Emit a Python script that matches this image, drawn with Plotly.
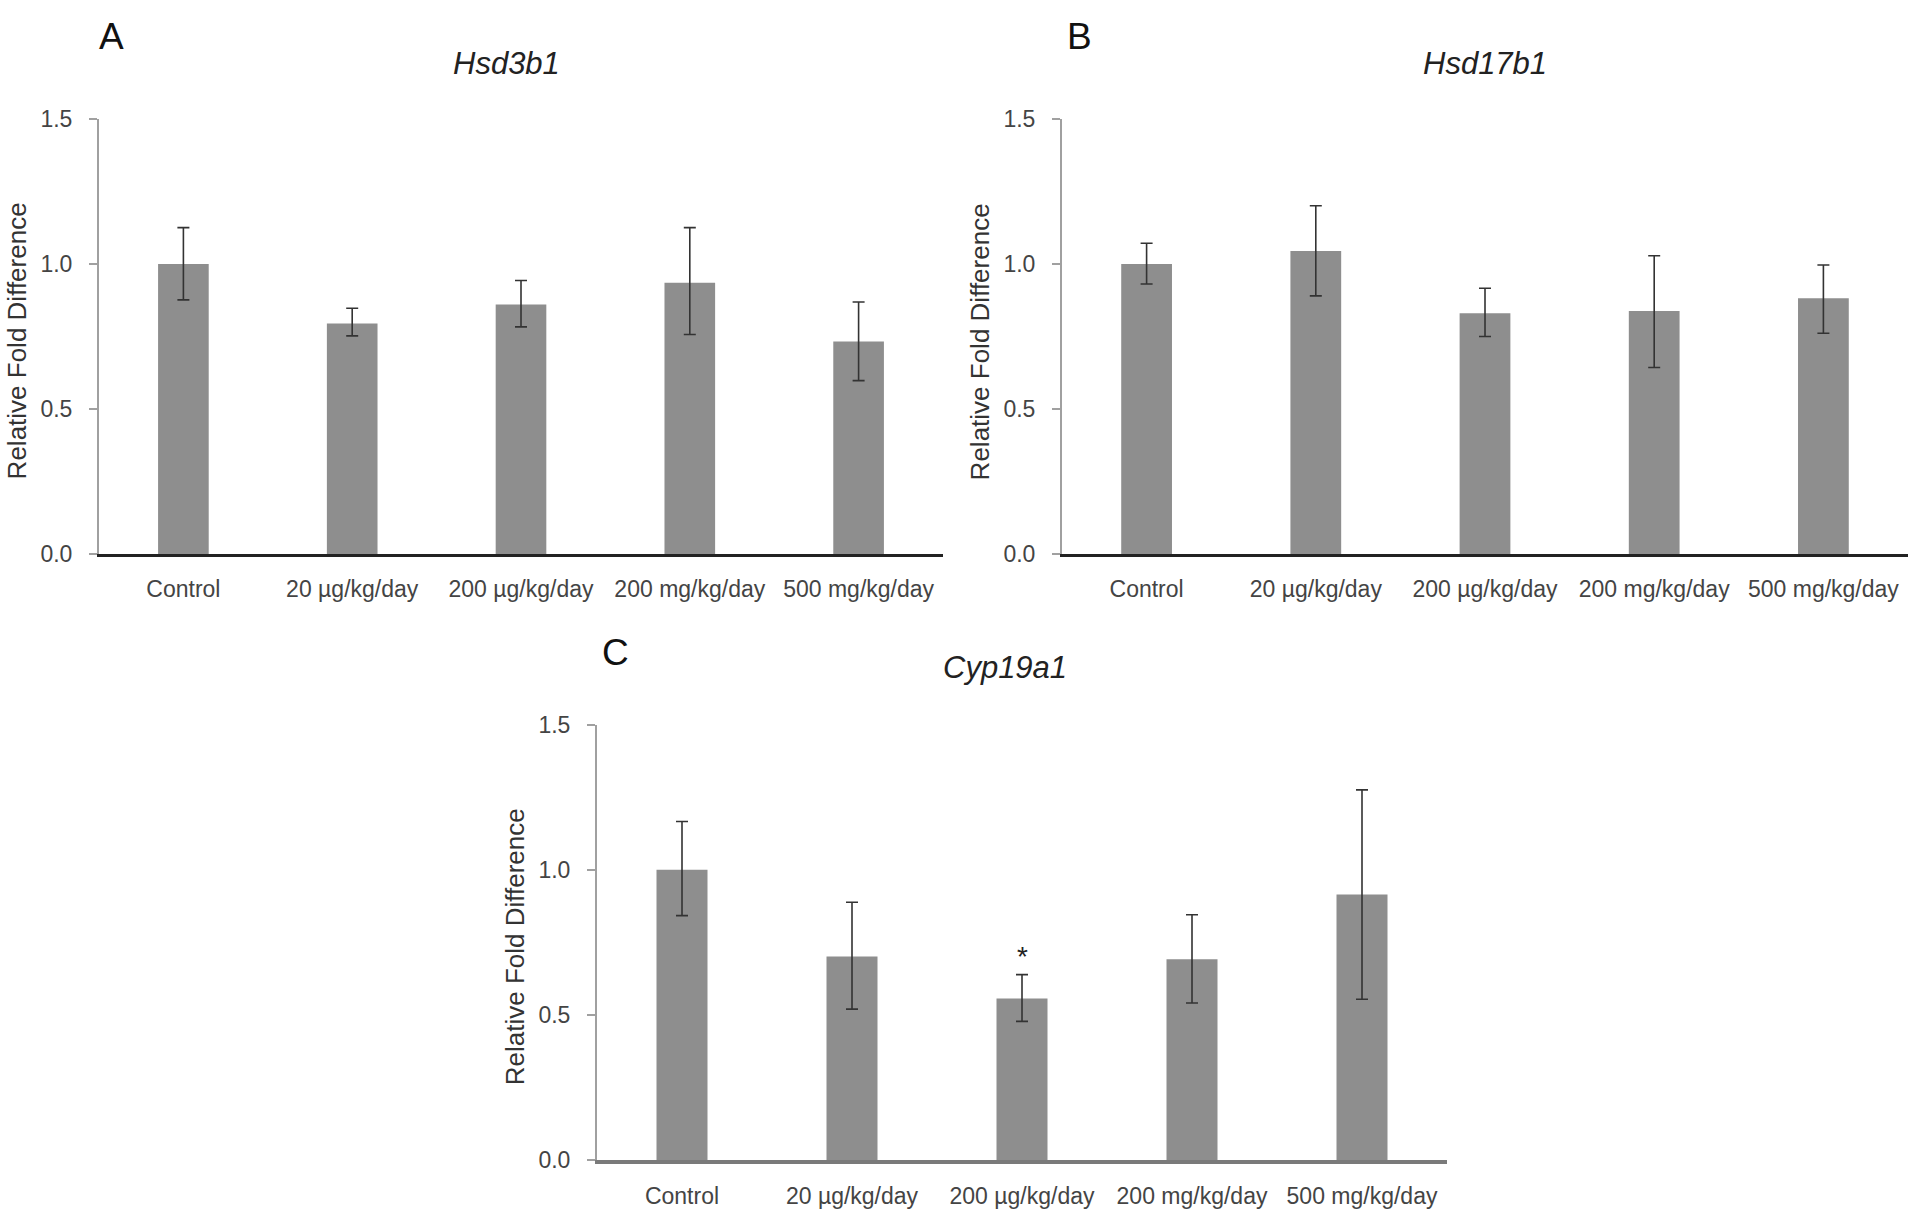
import plotly.graph_objects as go

categories = ["Control", "20 µg/kg/day", "200 µg/kg/day", "200 mg/kg/day", "500 mg/kg/day"]

# Panel A: Hsd3b1
hsd3b1_mean = [1.00, 0.795, 0.860, 0.935, 0.733]
hsd3b1_upper = [1.125, 0.847, 0.943, 1.125, 0.869]
hsd3b1_lower = [0.876, 0.752, 0.783, 0.757, 0.598]

# Panel B: Hsd17b1
hsd17b1_mean = [1.00, 1.044, 0.830, 0.838, 0.882]
hsd17b1_upper = [1.071, 1.200, 0.916, 1.028, 0.996]
hsd17b1_lower = [0.931, 0.890, 0.750, 0.643, 0.761]

# Panel C: Cyp19a1
cyp19a1_mean = [1.00, 0.701, 0.557, 0.692, 0.915]
cyp19a1_upper = [1.166, 0.888, 0.639, 0.845, 1.275]
cyp19a1_lower = [0.842, 0.520, 0.478, 0.541, 0.554]

signif_category = "200 µg/kg/day"
signif_y = 0.70

yticks = [0.0, 0.5, 1.0, 1.5]
ytick_text = ["0.0", "0.5", "1.0", "1.5"]

W, H = 1920, 1225
BAR = "#8e8e8e"
ERR = "#333333"
TICKFONT = dict(family="Liberation Sans, Arial", size=23, color="#444444")


def px(x):
    return x / W


def py(y):
    return 1 - y / H


panels = [
    dict(name="Hsd3b1", letter="A", mean=hsd3b1_mean, up=hsd3b1_upper, lo=hsd3b1_lower,
         x0=99, x1=943, ytop=108, ybot=553, xax="x", yax="y", xcolor="#222222", xw=3,
         lx=97, ly=24, tx=506, ty=52),
    dict(name="Hsd17b1", letter="B", mean=hsd17b1_mean, up=hsd17b1_upper, lo=hsd17b1_lower,
         x0=1062, x1=1908, ytop=108, ybot=553, xax="x2", yax="y2", xcolor="#222222", xw=3,
         lx=1065, ly=24, tx=1485, ty=52),
    dict(name="Cyp19a1", letter="C", mean=cyp19a1_mean, up=cyp19a1_upper, lo=cyp19a1_lower,
         x0=597, x1=1447, ytop=727, ybot=1172, xax="x3", yax="y3", xcolor="#7a7a7a", xw=4,
         lx=600, ly=653, tx=1005, ty=669),
]

fig = go.Figure()
annotations = []
layout_axes = {}

for i, p in enumerate(panels):
    plus = [u - m for u, m in zip(p["up"], p["mean"])]
    minus = [m - l for m, l in zip(p["mean"], p["lo"])]
    fig.add_trace(go.Bar(
        x=categories, y=p["mean"], xaxis=p["xax"], yaxis=p["yax"],
        marker=dict(color=BAR, line=dict(width=0)),
        error_y=dict(type="data", symmetric=False, array=plus, arrayminus=minus,
                     color=ERR, thickness=1.6, width=6),
        showlegend=False,
    ))
    suffix = "" if i == 0 else str(i + 1)
    xd = [px(p["x0"]), px(p["x1"])]
    yd = [py(p["ybot"]), py(p["ytop"])]
    layout_axes["xaxis" + suffix] = dict(
        domain=xd, anchor=p["yax"], range=[-0.5, 4.5], type="category",
        showline=True, linecolor=p["xcolor"], linewidth=p["xw"], ticks="",
        tickfont=TICKFONT, ticklabelstandoff=12, showgrid=False, zeroline=False,
    )
    layout_axes["yaxis" + suffix] = dict(
        domain=yd, anchor=p["xax"], range=[0, 1.5], tickvals=yticks, ticktext=ytick_text,
        showline=True, linecolor="#a0a0a0", linewidth=2, ticks="outside", ticklen=8,
        tickwidth=1.5, tickcolor="#a0a0a0", tickfont=TICKFONT, ticklabelstandoff=12,
        showgrid=False, zeroline=False,
    )
    annotations.append(dict(text=p["letter"], x=px(p["lx"]), y=py(p["ly"]),
                            xref="paper", yref="paper", xanchor="left", yanchor="middle",
                            showarrow=False,
                            font=dict(family="Liberation Sans, Arial", size=37, color="#111111")))
    annotations.append(dict(text="<i>" + p["name"] + "</i>", x=px(p["tx"]), y=py(p["ty"]),
                            xref="paper", yref="paper", xanchor="center", yanchor="middle",
                            showarrow=False,
                            font=dict(family="Liberation Sans, Arial", size=31, color="#222222")))
    annotations.append(dict(text="Relative Fold Difference", x=px(p["x0"] - 82),
                            y=py((p["ytop"] + p["ybot"]) / 2 + 5), xref="paper", yref="paper",
                            xanchor="center", yanchor="middle", textangle=-90, showarrow=False,
                            font=dict(family="Liberation Sans, Arial", size=26, color="#333333")))

annotations.append(dict(text="*", x=signif_category, y=signif_y, xref="x3", yref="y3",
                        xanchor="center", yanchor="middle", showarrow=False,
                        font=dict(family="Liberation Sans, Arial", size=28, color="#222222")))

fig.update_layout(
    width=W, height=H, margin=dict(l=0, r=0, t=0, b=0),
    paper_bgcolor="white", plot_bgcolor="white",
    bargap=0.7, annotations=annotations, **layout_axes,
)

fig.write_html(
    "out.html",
    config={"displayModeBar": False},
    post_script="document.body.style.margin='0';document.body.style.overflow='hidden';",
)
